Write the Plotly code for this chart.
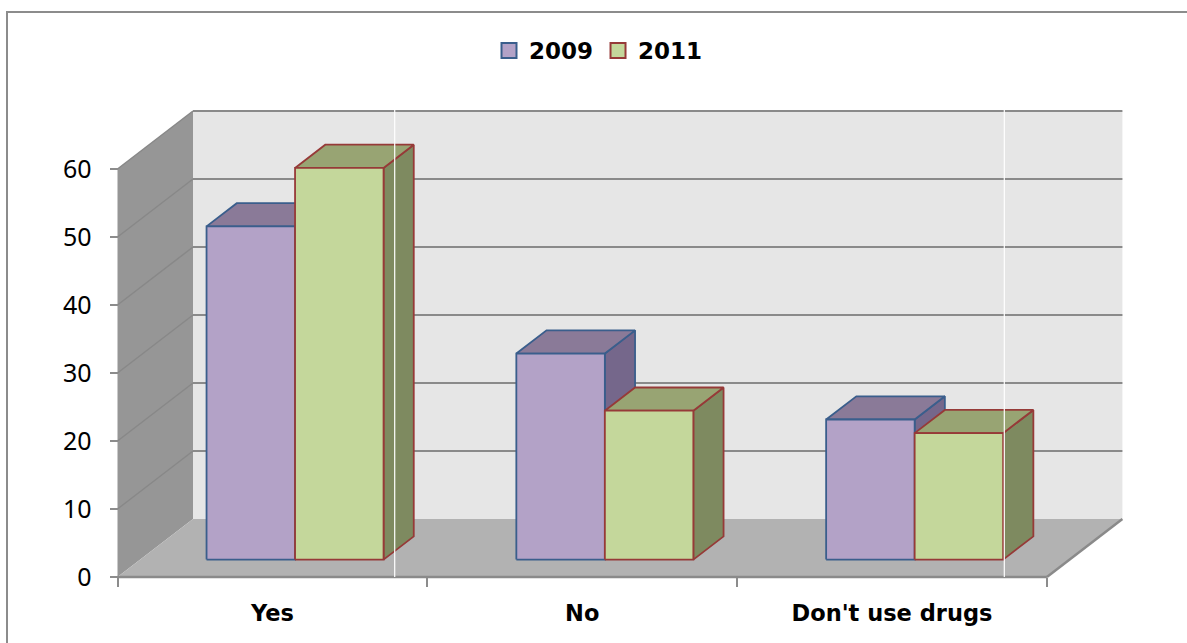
import plotly.graph_objects as go

# ---------------- data ----------------
categories = ["Yes", "No", "Don't use drugs"]
series_names = ["2009", "2011"]
values_2009 = [49.0, 30.3, 20.6]
values_2011 = [57.6, 21.9, 18.6]
y_tick_values = [0, 10, 20, 30, 40, 50, 60]
y_tick_labels = ["0", "10", "20", "30", "40", "50", "60"]
y_axis_max = 60

# ---------------- styles ----------------
front_fill = ["#b3a2c7", "#c4d79b"]
top_fill = ["#8a7a98", "#98a473"]
side_fill = ["#75678b", "#7e8a60"]
edge_col = ["#3a5e8c", "#963a38"]

W, H = 1187, 643
ORIGIN_PX = (117.5, 577.0)   # front-floor-left corner in pixels
PX_PER_CAT = 309.8
PX_PER_VAL = 6.8
DEPTH_PX = (75.5, 58.0)      # oblique depth shift in pixels
DX = DEPTH_PX[0] / PX_PER_CAT
DY = DEPTH_PX[1] / PX_PER_VAL
GAP = 1.5                    # gap width 150%
BAR_W = 1.0 / (2 + GAP)
Z0, Z1 = 0.3, 0.7            # bar depth extent (gap depth 150%)
NCAT = len(categories)


def P(c, v, z):
    return c + z * DX, v + z * DY


def poly_trace(pts, fill, line_col, line_w=0):
    xs = [p[0] for p in pts] + [pts[0][0]]
    ys = [p[1] for p in pts] + [pts[0][1]]
    return go.Scatter(x=xs, y=ys, mode="lines", fill="toself", fillcolor=fill,
                      line=dict(color=line_col, width=line_w),
                      hoverinfo="skip", showlegend=False)


def line_trace(p0, p1, col, w):
    return go.Scatter(x=[p0[0], p1[0]], y=[p0[1], p1[1]], mode="lines",
                      line=dict(color=col, width=w), hoverinfo="skip",
                      showlegend=False)


fig = go.Figure()

# walls and floor
fig.add_trace(poly_trace([P(0, 0, 1), P(NCAT, 0, 1), P(NCAT, y_axis_max, 1), P(0, y_axis_max, 1)],
                         "#e6e6e6", "rgba(0,0,0,0)"))
fig.add_trace(poly_trace([P(0, 0, 0), P(0, 0, 1), P(0, y_axis_max, 1), P(0, y_axis_max, 0)],
                         "#969696", "rgba(0,0,0,0)"))
fig.add_trace(poly_trace([P(0, 0, 0), P(NCAT, 0, 0), P(NCAT, 0, 1), P(0, 0, 1)],
                         "#b2b2b2", "rgba(0,0,0,0)"))

grid_col = "#8a8a8a"
for v in y_tick_values[1:]:
    fig.add_trace(line_trace(P(0, v, 1), P(NCAT, v, 1), grid_col, 2))
    fig.add_trace(line_trace(P(0, v, 0), P(0, v, 1), "#888888", 1.5))

# floor edges
fig.add_trace(line_trace(P(0, 0, 0), P(NCAT, 0, 0), grid_col, 2.5))
fig.add_trace(line_trace(P(NCAT, 0, 0), P(NCAT, 0, 1), grid_col, 2.5))

# bars
series_values = [values_2009, values_2011]
for i in range(NCAT):
    for s in range(2):
        v = series_values[s][i]
        x0 = i + GAP / 2 * BAR_W + s * BAR_W
        x1 = x0 + BAR_W
        side = [P(x1, 0, Z0), P(x1, 0, Z1), P(x1, v, Z1), P(x1, v, Z0)]
        top = [P(x0, v, Z0), P(x1, v, Z0), P(x1, v, Z1), P(x0, v, Z1)]
        front = [P(x0, 0, Z0), P(x1, 0, Z0), P(x1, v, Z0), P(x0, v, Z0)]
        fig.add_trace(poly_trace(side, side_fill[s], edge_col[s], 1.8))
        fig.add_trace(poly_trace(top, top_fill[s], edge_col[s], 1.8))
        fig.add_trace(poly_trace(front, front_fill[s], edge_col[s], 1.8))

# legend entries
for s in range(2):
    fig.add_trace(go.Scatter(x=[None], y=[None], mode="markers", name=series_names[s],
                             marker=dict(symbol="square", size=15, color=front_fill[s],
                                         line=dict(color=edge_col[s], width=2))))

x_range = [-ORIGIN_PX[0] / PX_PER_CAT, (W - ORIGIN_PX[0]) / PX_PER_CAT]
y_range = [(ORIGIN_PX[1] - H) / PX_PER_VAL, ORIGIN_PX[1] / PX_PER_VAL]

shapes = [
    dict(type="rect", xref="paper", yref="paper", x0=7 / W, x1=1.05, y0=-0.05, y1=1 - 12 / H,
         line=dict(color="#8c8c8c", width=2), fillcolor="rgba(0,0,0,0)", layer="above"),
]
for px in (394.7, 1004.3):
    shapes.append(dict(type="line", xref="paper", yref="paper", x0=px / W, x1=px / W,
                       y0=1 - 577 / H, y1=1 - 110 / H, line=dict(color="white", width=1.2),
                       layer="above"))

fig.update_layout(
    width=W, height=H, autosize=False,
    margin=dict(l=0, r=0, t=0, b=0, pad=0),
    paper_bgcolor="white", plot_bgcolor="white",
    showlegend=True,
    legend=dict(orientation="h", x=0.5 + 5 / W, xanchor="center", y=1 - 29 / H, yanchor="top",
                font=dict(family="DejaVu Sans", size=23, color="black", weight="bold"),
                itemwidth=30, bgcolor="rgba(0,0,0,0)", itemclick=False),
    xaxis=dict(range=x_range, anchor="free", position=1 - ORIGIN_PX[1] / H,
               tickvals=[i + 0.5 for i in range(NCAT)], ticktext=categories,
               ticks="", showgrid=False, zeroline=False, showline=False,
               tickfont=dict(family="DejaVu Sans", size=22.5, color="black", weight="bold"),
               ticklabelstandoff=20, automargin=False, fixedrange=True,
               minor=dict(tickvals=list(range(NCAT + 1)), ticks="outside", ticklen=9,
                          tickwidth=2, tickcolor="#8c8c8c", showgrid=False)),
    yaxis=dict(range=y_range, anchor="free", position=ORIGIN_PX[0] / W, side="left",
               tickvals=y_tick_values, ticktext=y_tick_labels,
               ticks="outside", ticklen=8, tickwidth=2, tickcolor="#8c8c8c",
               showgrid=False, zeroline=False, showline=False,
               tickfont=dict(family="Noto Sans", size=25, color="black"),
               ticklabelstandoff=13, automargin=False, fixedrange=True),
    shapes=shapes,
)

fig.write_html("out.html", config={"displayModeBar": False},
               post_script="document.body.style.margin='0';document.body.style.overflow='hidden';")
